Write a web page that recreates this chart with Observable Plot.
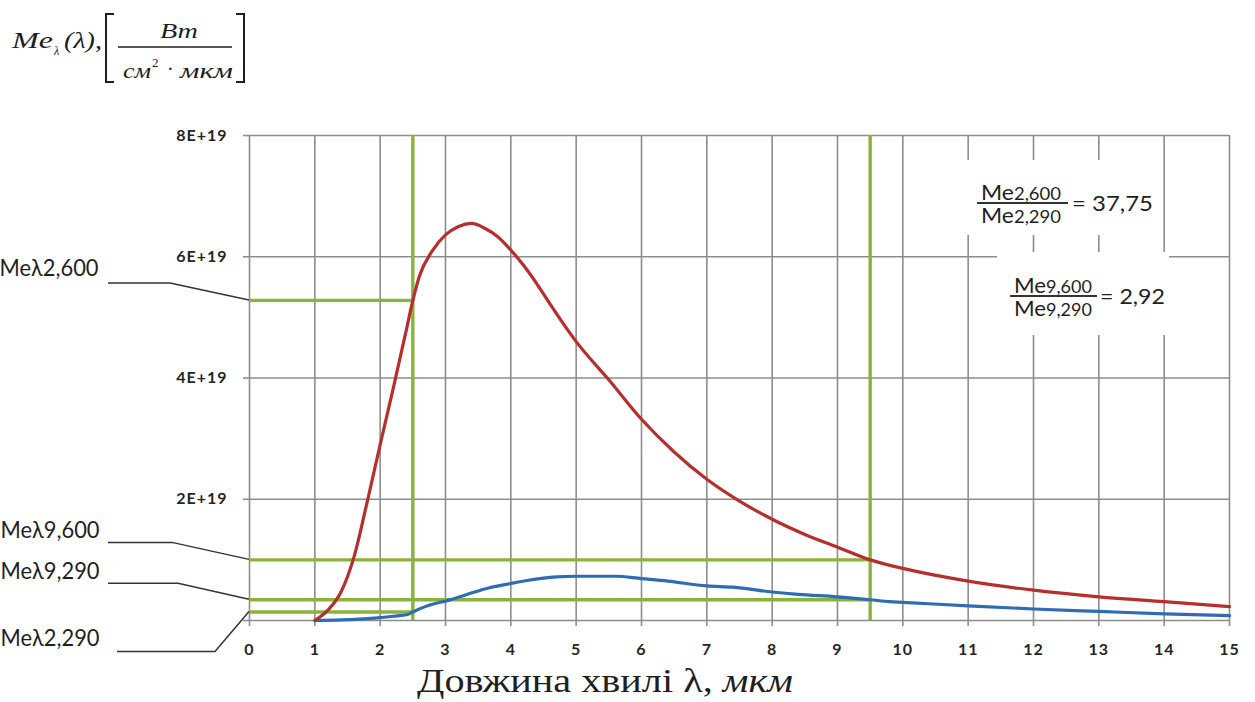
<!DOCTYPE html>
<html>
<head>
<meta charset="utf-8">
<script src="https://cdn.jsdelivr.net/npm/d3@7"></script>
<script src="https://cdn.jsdelivr.net/npm/@observablehq/plot@0.6"></script>
<style>
  html, body { margin: 0; padding: 0; background: #fff; }
  #chart { position: relative; width: 1255px; height: 702px; overflow: hidden; }
  #chart > svg { position: absolute; left: 0; top: 0; }
</style>
</head>
<body>
<div id="chart"></div>
<script>
// Spectral radiant exitance, W/(cm²·µm), for two temperatures
const lambda600 = [1.0, 1.2, 1.4, 1.6, 1.8, 2.0, 2.2, 2.4, 2.5, 2.6, 2.8, 3.0, 3.2, 3.4, 3.6, 3.8, 4.0, 4.2, 4.4, 4.6, 4.8, 5.0, 5.5, 6.0, 6.5, 7.0, 7.5, 8.0, 8.5, 9.0, 9.5, 10.0, 11.0, 12.0, 13.0, 14.0, 15.0];
const me600 = [0, 0.17e19, 0.47e19, 1.05e19, 1.95e19, 2.9e19, 3.83e19, 4.79e19, 5.28e19, 5.68e19, 6.1e19, 6.36e19, 6.5e19, 6.55e19, 6.47e19, 6.33e19, 6.11e19, 5.85e19, 5.55e19, 5.22e19, 4.9e19, 4.6e19, 3.97e19, 3.32e19, 2.78e19, 2.33e19, 1.97e19, 1.67e19, 1.42e19, 1.21e19, 1.0e19, 0.86e19, 0.65e19, 0.5e19, 0.39e19, 0.31e19, 0.23e19];

const lambda290 = [1.0, 1.4, 1.91, 2.2, 2.42, 2.5, 2.62, 2.92, 3.0, 3.33, 3.6, 4.0, 4.25, 4.7, 5.0, 5.6, 6.0, 6.4, 7.0, 7.4, 8.0, 8.4, 9.0, 9.5, 9.8, 10.0, 11.0, 12.0, 13.0, 14.0, 15.0];
const me290 = [0, 0.01e19, 0.04e19, 0.07e19, 0.1e19, 0.14e19, 0.2e19, 0.3e19, 0.32e19, 0.43e19, 0.52e19, 0.61e19, 0.66e19, 0.72e19, 0.73e19, 0.73e19, 0.69e19, 0.65e19, 0.57e19, 0.55e19, 0.47e19, 0.43e19, 0.39e19, 0.3425e19, 0.31e19, 0.3e19, 0.24e19, 0.19e19, 0.15e19, 0.11e19, 0.08e19];

// Reference readings at λ = 2.5 µm and λ = 9.5 µm
const refLambda = [2.5, 9.5];
const refLabels = ["Meλ2,600", "Meλ2,290", "Meλ9,600", "Meλ9,290"];
const refValues = [5.28e19, 0.13987e19, 1.0e19, 0.3425e19];
const refReach = [2.5, 2.5, 9.5, 9.5];

// Axis ticks
const xTicks = [0, 1, 2, 3, 4, 5, 6, 7, 8, 9, 10, 11, 12, 13, 14, 15];
const yTicks = [0, 2e19, 4e19, 6e19, 8e19];
const yTickLabels = ["", "2E+19", "4E+19", "6E+19", "8E+19"];

// Styling
const RED = "#b52f2d", BLUE = "#2f6cb3", GREEN = "#88b43c", GRID = "#8d8d8d", INK = "#1f1f1f";

const plot = Plot.plot({
  width: 1255,
  height: 702,
  marginLeft: 249,
  marginRight: 26,
  marginTop: 135,
  marginBottom: 82,
  style: { fontFamily: "Lato, 'Open Sans', sans-serif", background: "transparent", overflow: "visible" },
  x: { domain: [0, 15], axis: null },
  y: { domain: [0, 8e19], axis: null },
  marks: [
    Plot.ruleX(xTicks, { stroke: GRID, strokeWidth: 1.6 }),
    Plot.ruleY(yTicks, { stroke: GRID, strokeWidth: 1.6 }),
    Plot.axisX({ ticks: xTicks, tickFormat: d => String(d), tickSize: 6, tickPadding: 17,
                 stroke: GRID, strokeWidth: 1.6, fill: "#262626" }),
    Plot.axisY({ ticks: yTicks, tickFormat: d => yTickLabels[yTicks.indexOf(d)], tickSize: 6, tickPadding: 16,
                 stroke: GRID, strokeWidth: 1.6, fill: "#262626" }),
    Plot.ruleX(refLambda, { y1: 0, y2: 8e19, stroke: GREEN, strokeWidth: 3.4 }),
    Plot.ruleY(refValues, { x1: 0, x2: (d, i) => refReach[i], stroke: GREEN, strokeWidth: 3.4 }),
    Plot.line(lambda290, { x: lambda290, y: me290, stroke: BLUE, strokeWidth: 3.2, curve: "monotone-x" }),
    Plot.line(lambda600, { x: lambda600, y: me600, stroke: RED, strokeWidth: 3.2, curve: "monotone-x" })
  ]
});

const chart = document.getElementById("chart");
chart.appendChild(plot);

// tick label type (the only text in the plot so far)
d3.select(plot).selectAll("text")
  .style("font-size", "16px").style("font-weight", "700").attr("fill", "#262626")
  .attr("letter-spacing", "1px");

// Leader lines from the left-hand labels to the reference readings on the y axis
const sx = plot.scale("x"), sy = plot.scale("y");
const leaderLayout = [
  { elbow: [-79, -17], end: -141, text: [-200, -32] },
  { elbow: [-34, 40], end: -132, text: [-199, 26] },
  { elbow: [-77, -17], end: -141, text: [-199, -30] },
  { elbow: [-71, -16], end: -141, text: [-199, -29] }
];
const lead = d3.select(plot).append("g").attr("aria-label", "reference labels");
refLabels.forEach((label, i) => {
  const ax = sx.apply(0), ay = sy.apply(refValues[i]);
  const L = leaderLayout[i];
  const ex = ax + L.elbow[0], ey = ay + L.elbow[1];
  lead.append("path")
    .attr("d", `M${ax},${ay}L${ex},${ey}L${ax + L.end},${ey}`)
    .attr("fill", "none").attr("stroke", "#333").attr("stroke-width", 1.5);
  lead.append("text")
    .attr("x", ax + L.text[0]).attr("y", ay + L.text[1])
    .attr("dy", "0.36em")
    .attr("font-family", "Lato, sans-serif").attr("font-size", 23)
    .attr("fill", INK).attr("textLength", 99).attr("lengthAdjust", "spacingAndGlyphs")
    .text(label);
});

// Overlay: unit caption, axis title and the ratio notes
const fmt = v => v.toFixed(2).replace(".", ",");
const ratio2 = fmt(refValues[0] / refValues[1]);
const ratio9 = fmt(refValues[2] / refValues[3]);

const ov = d3.select(chart).append("svg")
  .attr("width", 1255).attr("height", 702)
  .style("pointer-events", "none");

// caption: Me_λ(λ), [Вт / (см²·мкм)]
const cap = ov.append("g")
  .attr("font-family", "'Liberation Serif', 'Times New Roman', serif")
  .attr("font-style", "italic").attr("fill", INK);
cap.append("text").attr("x", 12).attr("y", 48).attr("font-size", 24)
  .attr("textLength", 41).attr("lengthAdjust", "spacingAndGlyphs").text("Me");
cap.append("text").attr("x", 54).attr("y", 55).attr("font-size", 12).text("λ");
cap.append("text").attr("x", 64).attr("y", 48).attr("font-size", 24)
  .attr("textLength", 38).attr("lengthAdjust", "spacingAndGlyphs").text("(λ),");
cap.append("path").attr("d", "M114,14H106V82H114M236,14H244V82H236")
  .attr("fill", "none").attr("stroke", INK).attr("stroke-width", 2);
cap.append("text").attr("x", 160).attr("y", 38).attr("font-size", 21)
  .attr("textLength", 38).attr("lengthAdjust", "spacingAndGlyphs").text("Вт");
cap.append("line").attr("x1", 118).attr("x2", 232).attr("y1", 47).attr("y2", 47)
  .attr("stroke", INK).attr("stroke-width", 1.5);
cap.append("text").attr("x", 123).attr("y", 78).attr("font-size", 21)
  .attr("textLength", 28).attr("lengthAdjust", "spacingAndGlyphs").text("см");
cap.append("text").attr("x", 152).attr("y", 67).attr("font-size", 13).attr("font-style", "normal").text("2");
cap.append("text").attr("x", 167).attr("y", 76).attr("font-size", 20).attr("font-style", "normal").text("·");
cap.append("text").attr("x", 180).attr("y", 78).attr("font-size", 21)
  .attr("textLength", 53).attr("lengthAdjust", "spacingAndGlyphs").text("мкм");

// x-axis title
const ttl = ov.append("text")
  .attr("x", 417).attr("y", 692)
  .attr("font-family", "'Liberation Serif', 'Times New Roman', serif")
  .attr("font-size", 34).attr("fill", INK)
  .attr("textLength", 376).attr("lengthAdjust", "spacingAndGlyphs");
ttl.append("tspan").text("Довжина хвилі λ, ");
ttl.append("tspan").attr("font-style", "italic").text("мкм");

// ratio notes on white boxes
function ratioNote(box, num, den, value, fx, fy, barW, eqX, numW, eqW) {
  ov.append("rect").attr("x", box[0]).attr("y", box[1]).attr("width", box[2]).attr("height", box[3]).attr("fill", "#fff");
  const g = ov.append("g").attr("font-family", "Lato, sans-serif").attr("fill", INK);
  const part = (y, txt) => {
    const t = g.append("text").attr("x", fx + 4).attr("y", y).attr("font-size", 21)
      .attr("textLength", numW).attr("lengthAdjust", "spacingAndGlyphs");
    t.append("tspan").text("Me");
    t.append("tspan").attr("font-size", 17).text(txt);
  };
  part(fy - 3, num);
  g.append("line").attr("x1", fx).attr("x2", fx + barW).attr("y1", fy).attr("y2", fy)
    .attr("stroke", "#333").attr("stroke-width", 2);
  part(fy + 20, den);
  g.append("text").attr("x", eqX).attr("y", fy + 8).attr("font-size", 22)
    .attr("textLength", eqW).attr("lengthAdjust", "spacingAndGlyphs").text("= " + value);
}
ratioNote([962, 160, 198, 75], "2,600", "2,290", ratio2, 977, 203, 91, 1072, 80, 81);
ratioNote([997, 252, 172, 83], "9,600", "9,290", ratio9, 1010, 296, 87, 1100, 78, 65);
</script>
</body>
</html>
